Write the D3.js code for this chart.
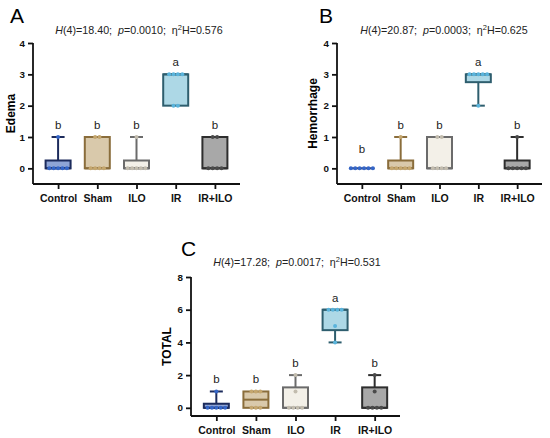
<!DOCTYPE html>
<html>
<head>
<meta charset="utf-8">
<script src="https://cdn.jsdelivr.net/npm/d3@7"></script>
<style>
  body { margin: 0; background: #fff; }
  svg { display: block; font-family: 'Liberation Sans', Arial, sans-serif; }
  .stat { white-space: pre; }
</style>
</head>
<body>
<svg id="chart" width="550" height="438"></svg>
<script>
const groups = ['Control', 'Sham', 'ILO', 'IR', 'IR+ILO'];

// individual scores, n = 6 per group
const edema = [[0, 0, 0, 0, 0, 1], [0, 0, 0, 0, 1, 1], [0, 0, 0, 0, 0, 1], [2, 2, 3, 3, 3, 3], [0, 0, 0, 0, 1, 1]];
const hemorrhage = [[0, 0, 0, 0, 0, 0], [0, 0, 0, 0, 0, 1], [0, 0, 0, 0, 1, 1], [2, 3, 3, 3, 3, 3], [0, 0, 0, 0, 0, 1]];
const total = [[0, 0, 0, 0, 0, 1], [0, 0, 0, 1, 1, 1], [0, 0, 0, 0, 1, 2], [4, 5, 6, 6, 6, 6], [0, 0, 0, 0, 1, 2]];

const letters = ['b', 'b', 'b', 'a', 'b'];
const hValues = ['18.40', '20.87', '17.28'];
const pValues = ['0.0010', '0.0003', '0.0017'];
const etaValues = ['0.576', '0.625', '0.531'];
const ticksAB = [0, 1, 2, 3, 4];
const ticksC = [0, 2, 4, 6, 8];

const fills = ['#8fa5d6', '#d9c9ab', '#f3f0e8', '#add8e6', '#a8a8a8'];
const strokes = ['#1c2b5c', '#8a6d3b', '#6b6b6b', '#2e5e6e', '#2e2e2e'];
const dotColors = ['#3566c8', '#c4a66e', '#c2bcae', '#5ab4dc', '#4a4a4a'];

const svg = d3.select('#chart');

// quartiles the way Prism does them (n+1 basis)
function quart(sorted, p) {
  const n = sorted.length;
  const pos = p * (n + 1);
  if (pos <= 1) return sorted[0];
  if (pos >= n) return sorted[n - 1];
  const lo = Math.floor(pos);
  return sorted[lo - 1] + (pos - lo) * (sorted[lo] - sorted[lo - 1]);
}

function drawPanel(opt) {
  const g = svg.append('g');
  const x = d3.scalePoint().domain(groups).range([opt.left, opt.right]).padding(0.64);
  const y = d3.scaleLinear().domain(opt.domain).range([opt.bottom, opt.top]);
  const maxTick = opt.ticks[opt.ticks.length - 1];

  // panel letter
  g.append('text')
    .attr('x', opt.letterX).attr('y', opt.letterY)
    .attr('font-size', 21)
    .text(opt.letter);

  // stats line
  const st = g.append('text')
    .attr('class', 'stat')
    .attr('x', opt.statX).attr('y', opt.statY)
    .attr('text-anchor', 'middle')
    .attr('font-size', 10.7)
    .attr('fill', '#222');
  st.append('tspan').attr('font-style', 'italic').text('H');
  st.append('tspan').text('(4)=' + hValues[opt.idx] + ';  ');
  st.append('tspan').attr('font-style', 'italic').text('p');
  st.append('tspan').text('=' + pValues[opt.idx] + ';  η');
  st.append('tspan').attr('font-size', 7.5).attr('dy', -4).text('2');
  st.append('tspan').attr('dy', 4).text('H=' + etaValues[opt.idx]);

  // y axis
  const yAxis = d3.axisLeft(y).tickValues(opt.ticks).tickSize(5).tickPadding(3).tickFormat(d3.format('d'));
  const ya = g.append('g').attr('transform', `translate(${opt.left},0)`).call(yAxis);
  ya.select('.domain').attr('d', `M0,${y(maxTick)}V${opt.bottom}`);
  ya.selectAll('line, path').attr('stroke', '#111').attr('stroke-width', 1.8);
  ya.selectAll('text').attr('font-size', 9.8).attr('font-weight', 'bold').attr('fill', '#111')
    .attr('font-family', "'Liberation Sans', Arial, sans-serif");

  // x axis
  const xAxis = d3.axisBottom(x).tickSize(5).tickPadding(6);
  const xa = g.append('g').attr('transform', `translate(0,${opt.bottom})`).call(xAxis);
  xa.select('.domain').attr('d', `M${opt.left},0H${opt.right}`);
  xa.selectAll('line, path').attr('stroke', '#111').attr('stroke-width', 1.8);
  xa.selectAll('text').attr('font-size', 10.5).attr('font-weight', 'bold').attr('fill', '#111')
    .attr('font-family', "'Liberation Sans', Arial, sans-serif");

  // y label
  g.append('text')
    .attr('transform', `translate(${opt.labelX},${(y(maxTick) + opt.bottom) / 2}) rotate(-90)`)
    .attr('text-anchor', 'middle')
    .attr('font-size', 12).attr('font-weight', 'bold')
    .text(opt.label);

  const bw = 25, cap = 13;
  opt.data.forEach((vals, i) => {
    const s = vals.slice().sort(d3.ascending);
    const q1 = quart(s, 0.25), q3 = quart(s, 0.75), med = d3.median(s);
    const mn = s[0], mx = s[s.length - 1];
    const cx = x(groups[i]);
    const bg = g.append('g');
    const sw = 2;

    // whiskers
    if (mx > q3) {
      bg.append('line').attr('x1', cx).attr('x2', cx).attr('y1', y(q3)).attr('y2', y(mx));
      bg.append('line').attr('x1', cx - cap / 2).attr('x2', cx + cap / 2).attr('y1', y(mx)).attr('y2', y(mx));
    }
    if (mn < q1) {
      bg.append('line').attr('x1', cx).attr('x2', cx).attr('y1', y(q1)).attr('y2', y(mn));
      bg.append('line').attr('x1', cx - cap / 2).attr('x2', cx + cap / 2).attr('y1', y(mn)).attr('y2', y(mn));
    }
    bg.selectAll('line').attr('stroke', strokes[i]).attr('stroke-width', sw);

    // box
    bg.append('rect')
      .attr('x', cx - bw / 2).attr('width', bw)
      .attr('y', y(q3)).attr('height', Math.max(0, y(q1) - y(q3)))
      .attr('fill', fills[i]).attr('stroke', strokes[i]).attr('stroke-width', sw);
    bg.append('line')
      .attr('x1', cx - bw / 2).attr('x2', cx + bw / 2).attr('y1', y(med)).attr('y2', y(med))
      .attr('stroke', strokes[i]).attr('stroke-width', sw);

    // scatter points spread sideways when equal
    const counts = d3.rollup(s, v => v.length, d => d);
    const seen = new Map();
    s.forEach(v => {
      const k = counts.get(v);
      const j = seen.get(v) || 0;
      seen.set(v, j + 1);
      bg.append('circle')
        .attr('cx', cx + (j - (k - 1) / 2) * 4.4)
        .attr('cy', y(v))
        .attr('r', 2)
        .attr('fill', dotColors[i]);
    });

    // significance letter
    g.append('text')
      .attr('x', cx)
      .attr('y', Math.min(y(mx) - 8, y(0) - 15))
      .attr('text-anchor', 'middle')
      .attr('font-size', 11.5)
      .attr('fill', '#222')
      .text(letters[i]);
  });
}

drawPanel({ idx: 0, data: edema, label: 'Edema', letter: 'A', domain: [-0.5, 4], ticks: ticksAB,
  left: 33, right: 240, top: 43, bottom: 184, labelX: 15, letterX: 10, letterY: 23, statX: 139, statY: 34 });
drawPanel({ idx: 1, data: hemorrhage, label: 'Hemorrhage', letter: 'B', domain: [-0.5, 4], ticks: ticksAB,
  left: 337, right: 542, top: 43, bottom: 184, labelX: 317, letterX: 319, letterY: 23, statX: 444, statY: 34 });
drawPanel({ idx: 2, data: total, label: 'TOTAL', letter: 'C', domain: [-0.5, 8], ticks: ticksC,
  left: 191, right: 400, top: 277, bottom: 416, labelX: 171, letterX: 181, letterY: 256, statX: 297, statY: 266 });
</script>
</body>
</html>
